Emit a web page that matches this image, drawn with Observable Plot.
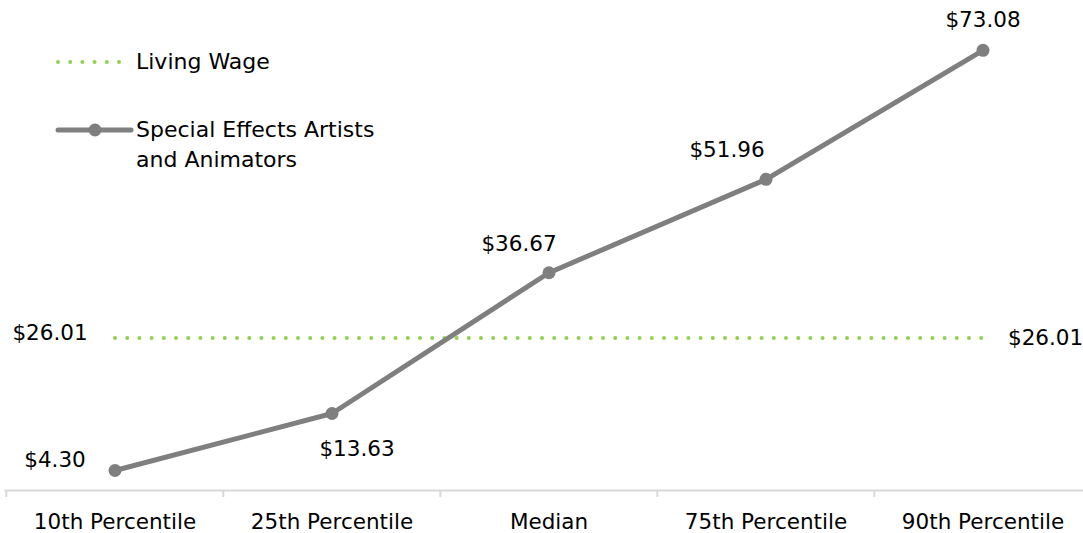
<!DOCTYPE html>
<html>
<head>
<meta charset="utf-8">
<script src="https://cdn.jsdelivr.net/npm/d3@7"></script>
<script src="https://cdn.jsdelivr.net/npm/@observablehq/plot@0.6"></script>
<style>
  html, body { margin: 0; padding: 0; background: #fff; }
  #wrap { position: relative; width: 1083px; height: 533px; overflow: hidden; font-family: "DejaVu Sans", sans-serif; }
  #legend { position: absolute; left: 0; top: 0; }
  #legend .item { position: absolute; font-size: 22px; color: #000; line-height: 30px; white-space: nowrap; }
</style>
</head>
<body>
<div id="wrap">
  <div id="chart"></div>
  <div id="legend"></div>
</div>
<script>
// ---- data ----
const categories = ["10th Percentile", "25th Percentile", "Median", "75th Percentile", "90th Percentile"];
const wages = [4.30, 13.63, 36.67, 51.96, 73.08];
const livingWage = 26.01;
const seriesNames = ["Living Wage", "Special Effects Artists and Animators"];

const colors = { wage: "#7f7f7f", living: "#92d050", axis: "#d9d9d9" };

const data = categories.map((c, i) => ({ cat: c, v: wages[i] }));
const livingData = [
  { cat: categories[0], v: livingWage },
  { cat: categories[categories.length - 1], v: livingWage }
];

const xRange = [5.3, 1092.4];
const bw = (xRange[1] - xRange[0]) / categories.length;
const fs = 21.5;
const fam = "DejaVu Sans, sans-serif";

function lab(cat, opts) {
  return Plot.text(data.filter(d => d.cat === cat), {
    x: "cat", y: "v", text: d => "$" + d.v.toFixed(2),
    fontSize: fs, fill: "#000", ...opts
  });
}

const chart = Plot.plot({
  width: 1083,
  height: 533,
  marginTop: 0,
  marginBottom: 43,
  marginLeft: 5,
  marginRight: 0,
  style: { fontFamily: fam, background: "#fff", overflow: "visible" },
  x: { type: "band", domain: categories, range: xRange, padding: 0, label: null },
  y: { domain: [0, 80], range: [496.3, 7.5], axis: null },
  marks: [
    Plot.frame({ anchor: "bottom", stroke: colors.axis, strokeWidth: 2 }),
    Plot.axisX({ tickSize: 7, dx: -bw / 2, tickFormat: () => "", stroke: colors.axis, strokeWidth: 2, strokeOpacity: 1 }),
    Plot.axisX({ tickSize: 0, tickPadding: 23, fontSize: fs, fill: "#000" }),
    Plot.line(livingData, { x: "cat", y: "v", stroke: colors.living, strokeWidth: 4, strokeDasharray: "0 12.2", strokeLinecap: "round" }),
    Plot.line(data, { x: "cat", y: "v", stroke: colors.wage, strokeWidth: 5 }),
    Plot.dot(data, { x: "cat", y: "v", r: 6.5, fill: colors.wage }),
    lab(categories[0], { dx: -60, dy: -10 }),
    lab(categories[1], { dx: 25, dy: 36 }),
    lab(categories[2], { dx: -30, dy: -29 }),
    lab(categories[3], { dx: -39, dy: -29 }),
    lab(categories[4], { dx: 0, dy: -30 }),
    Plot.text([livingData[0]], { x: "cat", y: "v", text: d => "$" + d.v.toFixed(2), fontSize: fs, fill: "#000", dx: -65, dy: -5 }),
    Plot.text([livingData[1]], { x: "cat", y: "v", text: d => "$" + d.v.toFixed(2), fontSize: fs, fill: "#000", dx: 25, textAnchor: "start" })
  ]
});
document.getElementById("chart").appendChild(chart);

// ---- legend ----
const legend = document.getElementById("legend");
legend.innerHTML = `
  <svg width="140" height="180" style="position:absolute;left:0;top:0">
    <line x1="58" y1="62" x2="124" y2="62" stroke="${colors.living}" stroke-width="4" stroke-dasharray="0 12.2" stroke-linecap="round"/>
    <line x1="58" y1="130" x2="131" y2="130" stroke="${colors.wage}" stroke-width="5" stroke-linecap="round"/>
    <circle cx="95" cy="130" r="6.5" fill="${colors.wage}"/>
  </svg>
  <div class="item" style="left:136px;top:47px">${seriesNames[0]}</div>
  <div class="item" style="left:136px;top:115px">Special Effects Artists<br>and Animators</div>
`;
</script>
</body>
</html>
